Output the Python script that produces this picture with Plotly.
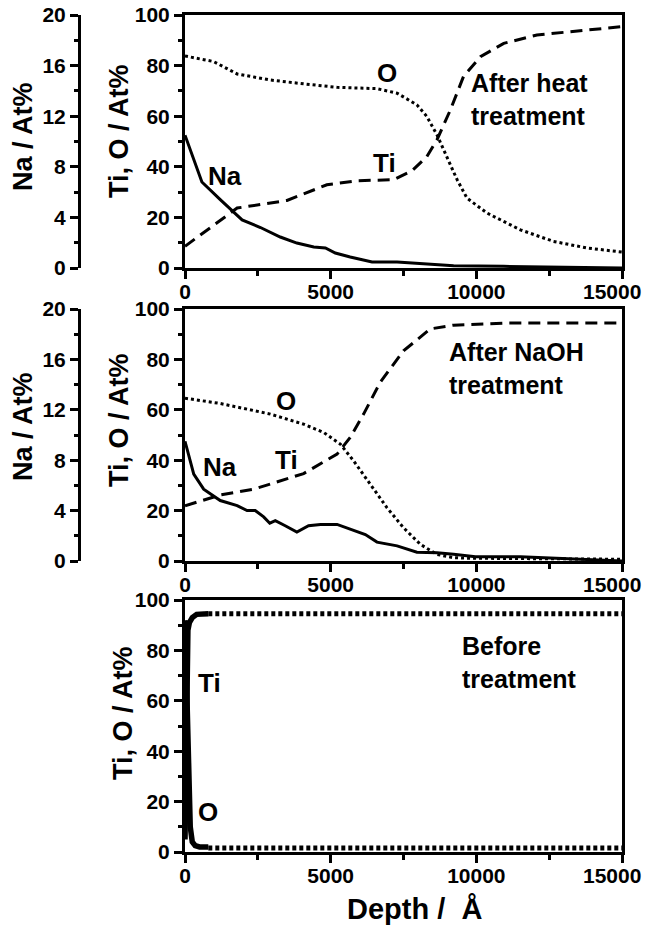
import plotly.graph_objects as go

# ---------------- data ----------------
# Panel 1: after heat treatment
heat_na_depth = [0, 580, 1210, 1960, 2590, 3270, 3840, 4420, 4820, 5160, 5670, 6420, 7280, 8190, 9220, 10940, 12650, 15000]
heat_na = [10.5, 6.8, 5.4, 3.8, 3.2, 2.45, 1.97, 1.66, 1.58, 1.18, 0.87, 0.47, 0.47, 0.32, 0.18, 0.13, 0.08, 0.0]
heat_ti_depth = [0, 1790, 3500, 4870, 5900, 7160, 7800, 8300, 8650, 9110, 9560, 10140, 10940, 12080, 13230, 15000]
heat_ti = [8.6, 23.7, 26.7, 32.9, 34.5, 34.9, 38.5, 44.0, 50.7, 62.5, 75.7, 83.5, 88.8, 92.1, 93.4, 95.4]
heat_o_depth = [0, 980, 1790, 2930, 4070, 5220, 6590, 7280, 7960, 8300, 8650, 8990, 9340, 9680, 10370, 11510, 12650, 13800, 15000]
heat_o = [83.8, 81.6, 76.7, 74.3, 72.8, 71.4, 70.9, 69.1, 64.5, 59.9, 52.6, 44.1, 34.9, 27.6, 21.7, 15.1, 10.5, 7.9, 6.3]

# Panel 2: after NaOH treatment
naoh_na_depth = [0, 300, 640, 1210, 1790, 2130, 2410, 2700, 2910, 3100, 3440, 3840, 4240, 4650, 5220, 5670, 6190, 6590, 7280, 7960, 8650, 9220, 9970, 11510, 13230, 15000]
naoh_na = [9.5, 6.9, 5.7, 4.8, 4.4, 4.0, 4.0, 3.5, 3.0, 3.2, 2.8, 2.3, 2.8, 2.9, 2.9, 2.5, 2.1, 1.5, 1.2, 0.7, 0.66, 0.53, 0.34, 0.34, 0.2, 0.0]
naoh_ti_depth = [0, 1210, 2360, 4070, 5220, 5670, 6130, 6700, 7500, 8420, 9220, 10940, 15000]
naoh_ti = [21.9, 26.2, 28.5, 34.7, 42.4, 49.0, 58.3, 70.9, 83.4, 92.1, 93.6, 94.4, 94.4]
naoh_o_depth = [0, 1210, 2930, 4070, 4760, 5330, 5790, 6360, 6930, 7500, 8080, 8650, 9220, 9790, 15000]
naoh_o = [64.6, 62.5, 58.3, 54.3, 51.0, 46.4, 39.7, 30.5, 21.2, 13.2, 6.6, 2.6, 1.3, 1.1, 0.7]

# Panel 3: before treatment
before_ti_depth = [0, 30, 60, 100, 150, 250, 400, 600, 800]
before_ti = [5, 40, 75, 88, 91, 93, 94.3, 94.5, 94.5]
before_o_depth = [0, 60, 120, 180, 250, 350, 500, 800]
before_o = [92, 60, 30, 10, 4, 2.5, 2, 2]
before_ti_tail_depth = [800, 15000]
before_ti_tail = [94.5, 94.5]
before_o_tail_depth = [800, 15000]
before_o_tail = [1.6, 1.6]

x_ticks = [0, 5000, 10000, 15000]
x_ticktext = ["0", "5000", "10000", ""]   # last label drawn shifted inward, as in the original
x_last_label = "15000"
tio_ticks = [0, 20, 40, 60, 80, 100]
na_ticks = [0, 4, 8, 12, 16, 20]

# ---------------- figure ----------------
W, H = 645, 928
FONT = "Liberation Sans, Arial, sans-serif"

def px_x(p):
    return p / W

def px_y(p):
    return 1 - p / H

xdom = [px_x(185), px_x(622)]
dom1 = [px_y(268), px_y(15)]
dom2 = [px_y(561), px_y(309)]
dom3 = [px_y(852), px_y(600)]

fig = go.Figure()

def line(x, y, xa, ya, width=3, dash="solid"):
    fig.add_trace(go.Scatter(x=x, y=y, xaxis=xa, yaxis=ya, mode="lines",
                             line=dict(color="black", width=width, dash=dash),
                             hoverinfo="skip"))

DASH = "12px,7px"
DOT = "3px,3px"

line(heat_na_depth, heat_na, "x", "y2")
line(heat_ti_depth, heat_ti, "x", "y", dash=DASH)
line(heat_o_depth, heat_o, "x", "y", dash=DOT)

line(naoh_na_depth, naoh_na, "x2", "y4")
line(naoh_ti_depth, naoh_ti, "x2", "y3", dash=DASH)
line(naoh_o_depth, naoh_o, "x2", "y3", dash=DOT)

line(before_ti_depth, before_ti, "x3", "y5", width=5.5)
line(before_o_depth, before_o, "x3", "y5", width=5.5)
line(before_ti_tail_depth, before_ti_tail, "x3", "y5", width=5, dash="4px,3px")
line(before_o_tail_depth, before_o_tail, "x3", "y5", width=5, dash="4px,3px")

tickfont = dict(family=FONT, size=21, color="black", weight="bold")
common = dict(showline=True, linecolor="black", linewidth=3, ticks="outside",
              ticklen=8, tickwidth=3, tickcolor="black", showgrid=False,
              zeroline=False, tickfont=tickfont, fixedrange=True,
              ticklabeloverflow="allow", automargin=False)

def xax(anchor):
    return dict(common, domain=xdom, anchor=anchor, range=[0, 15000],
                tickvals=x_ticks, ticktext=x_ticktext, mirror=True,
                ticklabelstandoff=-5,
                minor=dict(ticks="outside", ticklen=5, tickwidth=3,
                           tickcolor="black", dtick=2500, showgrid=False))

def tioax(dom, anchor):
    return dict(common, domain=dom, anchor=anchor, range=[0, 100],
                tickvals=tio_ticks, mirror=True,
                minor=dict(ticks="outside", ticklen=4, tickwidth=3,
                           tickcolor="black", dtick=10, showgrid=False))

def naax(over):
    return dict(common, overlaying=over, anchor="free", position=px_x(79),
                side="left", range=[0, 20], tickvals=na_ticks,
                minor=dict(ticks="outside", ticklen=4, tickwidth=3,
                           tickcolor="black", dtick=2, showgrid=False))

fig.update_layout(
    width=W, height=H, margin=dict(l=0, r=0, t=0, b=0, autoexpand=False),
    paper_bgcolor="white", plot_bgcolor="white", showlegend=False,
    xaxis=xax("y"), xaxis2=xax("y3"), xaxis3=xax("y5"),
    yaxis=tioax(dom1, "x"), yaxis2=naax("y"),
    yaxis3=tioax(dom2, "x2"), yaxis4=naax("y3"),
    yaxis5=tioax(dom3, "x3"),
)

# last x tick label of each panel, pulled inside the page
for bottom_px in (268, 561, 852):
    fig.add_annotation(text=x_last_label, x=px_x(612), y=px_y(bottom_px + 23),
                       xref="paper", yref="paper", showarrow=False, font=tickfont,
                       xanchor="center", yanchor="middle")

ann_font = dict(family=FONT, size=26, color="black", weight="bold")
box_font = dict(family=FONT, size=25, color="black", weight="bold")
title_font = dict(family=FONT, size=27, color="black", weight="bold")

def label(text, x, y, xr, yr):
    fig.add_annotation(text=text, x=x, y=y, xref=xr, yref=yr, showarrow=False,
                       font=ann_font, xanchor="center", yanchor="middle")

def note(text, x, y, xr, yr):
    fig.add_annotation(text=text, x=x, y=y, xref=xr, yref=yr, showarrow=False,
                       font=box_font, xanchor="left", yanchor="middle", align="left")

# panel 1 labels
label("Na", 1370, 36.4, "x", "y")
label("Ti", 6860, 41.5, "x", "y")
label("O", 6930, 77, "x", "y")
note("After heat<br>treatment", 9750, 66.7, "x", "y")
# panel 2 labels
label("Na", 1200, 37.5, "x2", "y3")
label("Ti", 3467, 39.9, "x2", "y3")
label("O", 3467, 63.6, "x2", "y3")
note("After NaOH<br>treatment", 9000, 76.2, "x2", "y3")
# panel 3 labels
label("Ti", 830, 67, "x3", "y5")
label("O", 800, 16, "x3", "y5")
note("Before<br>treatment", 9450, 75.3, "x3", "y5")

def vtitle(text, xp, yp):
    fig.add_annotation(text=text, x=px_x(xp), y=px_y(yp), xref="paper", yref="paper",
                       showarrow=False, font=title_font, textangle=-90,
                       xanchor="center", yanchor="middle")

vtitle("Na / At%", 23, 137)
vtitle("Ti, O / At%", 119, 131)
vtitle("Na / At%", 23, 427)
vtitle("Ti, O / At%", 119, 420)
vtitle("Ti, O / At%", 123, 713)

fig.add_annotation(text="Depth /\u00a0\u00a0Å", x=px_x(414), y=px_y(909),
                   xref="paper", yref="paper", showarrow=False,
                   font=dict(family=FONT, size=29, color="black", weight="bold"),
                   xanchor="center", yanchor="middle")

fig.write_html("out.html")
